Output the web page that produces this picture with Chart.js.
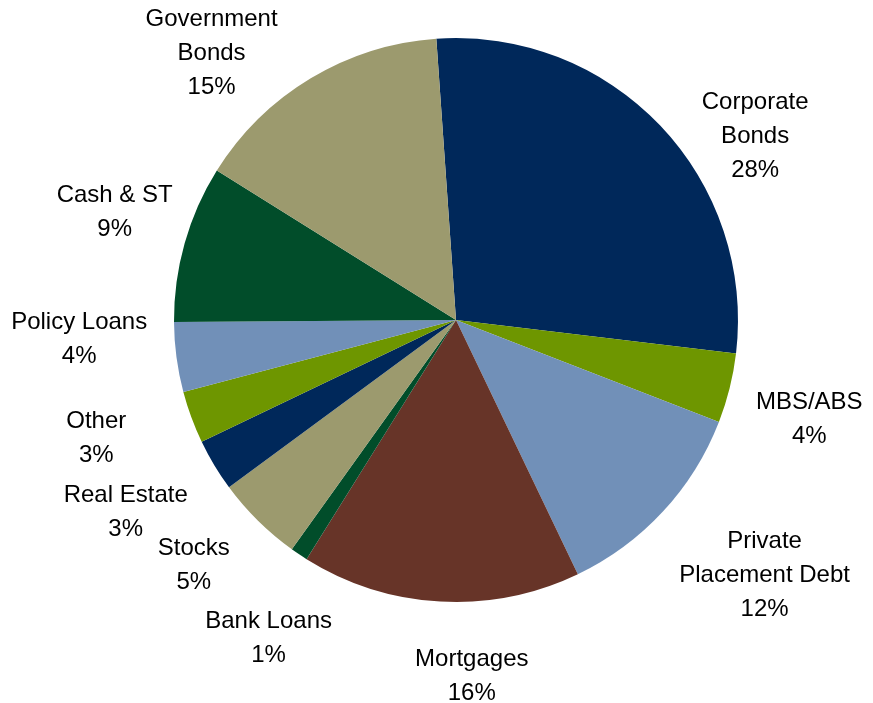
<!DOCTYPE html>
<html>
<head>
<meta charset="utf-8">
<title>Invested Assets by Class</title>
<script src="https://cdn.jsdelivr.net/npm/chart.js@4/dist/chart.umd.min.js"></script>
<style>
  html, body { margin: 0; padding: 0; background: #ffffff; }
  #wrap { width: 873px; height: 703px; }
</style>
</head>
<body>
<div id="wrap"><canvas id="pie" width="873" height="703"></canvas></div>
<script>
// Asset classes, clockwise from the top
const categories = [
  'Corporate Bonds', 'MBS/ABS', 'Private Placement Debt', 'Mortgages',
  'Bank Loans', 'Stocks', 'Real Estate', 'Other', 'Policy Loans',
  'Cash & ST', 'Government Bonds'
];
// Share of the portfolio, in percent
const shares = [28, 4, 12, 16, 1, 5, 3, 3, 4, 9, 15];
// How each category name wraps onto lines
const labelLines = [
  ['Corporate', 'Bonds'], ['MBS/ABS'], ['Private', 'Placement Debt'], ['Mortgages'],
  ['Bank Loans'], ['Stocks'], ['Real Estate'], ['Other'], ['Policy Loans'],
  ['Cash & ST'], ['Government', 'Bonds']
];

const sliceColors = [
  '#00285a', '#6e9600', '#7190b8', '#673428', '#014d2a', '#9c9a6e',
  '#00285a', '#6e9600', '#7190b8', '#014d2a', '#9c9a6e'
];

// Outside labels: placed along each slice's mid-angle, then nudged apart
const outsideLabels = {
  id: 'outsideLabels',
  afterDatasetsDraw(chart, args, opts) {
    const ctx = chart.ctx;
    const meta = chart.getDatasetMeta(0);
    ctx.save();
    ctx.font = opts.font;
    ctx.fillStyle = opts.color;
    ctx.textAlign = 'center';
    ctx.textBaseline = 'middle';
    meta.data.forEach((arc, i) => {
      const p = arc.getProps(['x', 'y', 'startAngle', 'endAngle', 'outerRadius'], true);
      const mid = (p.startAngle + p.endAngle) / 2;
      const r = p.outerRadius + opts.distance;
      const nudge = opts.nudges[i] || [0, 0];
      const cx = p.x + Math.cos(mid) * r + nudge[0];
      const cy = p.y + Math.sin(mid) * r + nudge[1] + opts.baselineShift;
      const lines = labelLines[i].concat([shares[i] + '%']);
      const top = cy - (lines.length - 1) * opts.lineHeight / 2;
      lines.forEach((t, k) => ctx.fillText(t, cx, top + k * opts.lineHeight));
    });
    ctx.restore();
  }
};

new Chart(document.getElementById('pie'), {
  type: 'pie',
  data: {
    labels: categories,
    datasets: [{
      data: shares,
      backgroundColor: sliceColors,
      borderWidth: 0,
      hoverOffset: 0
    }]
  },
  options: {
    responsive: false,
    animation: false,
    devicePixelRatio: 1,
    rotation: -4,
    layout: { padding: { top: 38, bottom: 101, left: 174, right: 135 } },
    plugins: {
      legend: { display: false },
      tooltip: { enabled: false },
      outsideLabels: {
        font: '24px "Liberation Sans", Arial, sans-serif',
        color: '#000000',
        lineHeight: 34,
        distance: 80,
        baselineShift: 2,
        nudges: [
          [37, 64], [2, 10], [43, 7], [36, -7], [14, 16], [-8, -14],
          [-20, 4], [-20, -9], [-18, -31], [7, -11], [-58, 42]
        ]
      }
    }
  },
  plugins: [outsideLabels]
});
</script>
</body>
</html>
